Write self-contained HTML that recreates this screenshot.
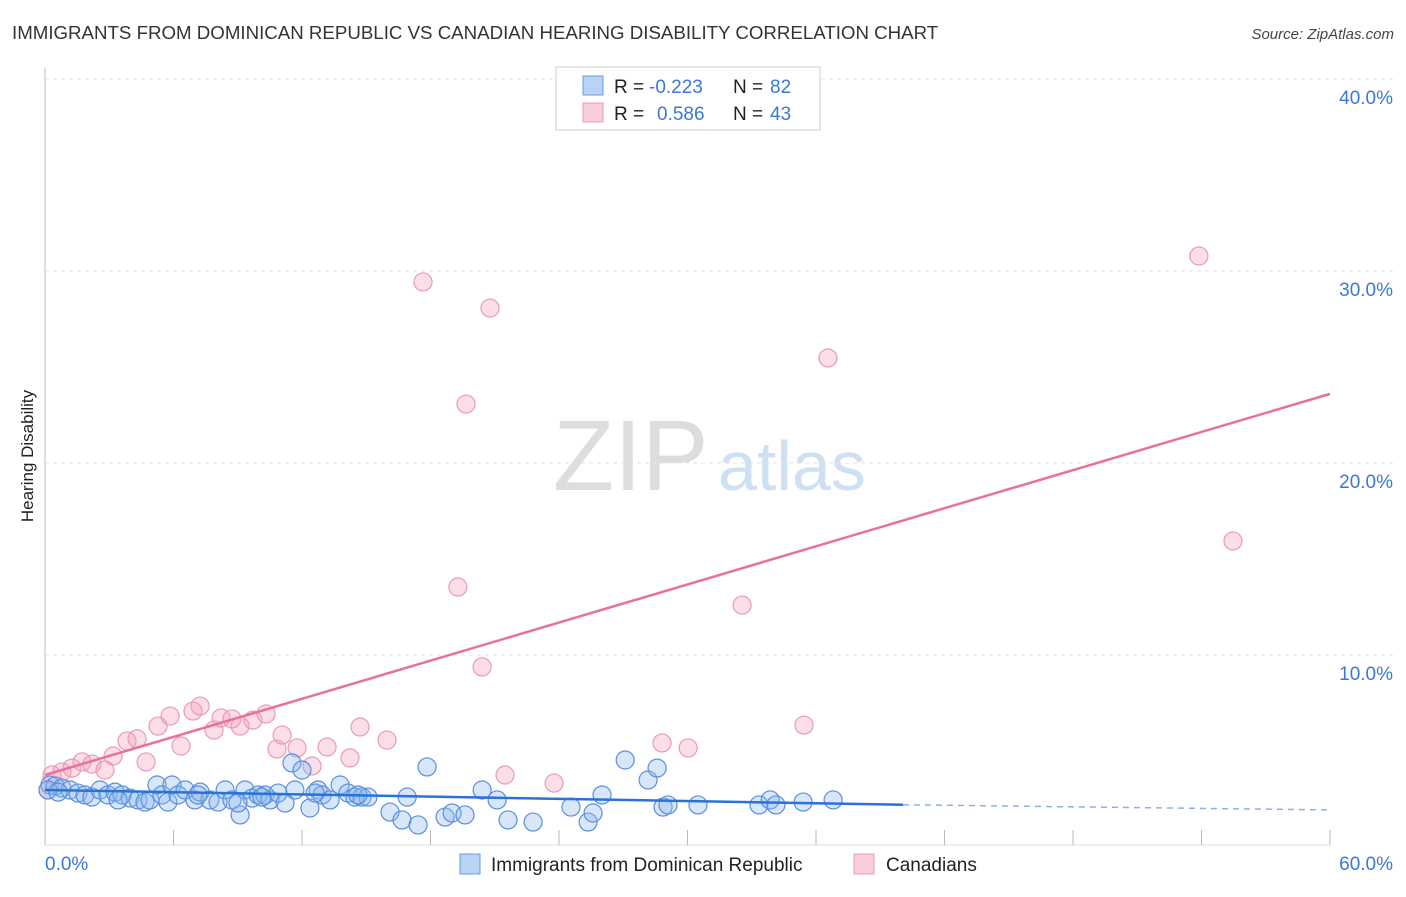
<!DOCTYPE html>
<html><head><meta charset="utf-8"><style>
body{margin:0;background:#fff;font-family:"Liberation Sans",sans-serif}
svg text{font-family:"Liberation Sans",sans-serif}
</style></head><body>
<svg id="chart" width="1406" height="892" xmlns="http://www.w3.org/2000/svg">
<text x="12" y="39" font-size="18.7" fill="#333">IMMIGRANTS FROM DOMINICAN REPUBLIC VS CANADIAN HEARING DISABILITY CORRELATION CHART</text>
<text x="1394" y="39" font-size="15" fill="#444" text-anchor="end" font-style="italic">Source: ZipAtlas.com</text>
<text x="553" y="490" font-size="100" fill="#ddd" font-family="Liberation Serif">ZIP</text>
<text x="718" y="490" font-size="70" fill="#cfe0f3">atlas</text>
<text transform="translate(33,456) rotate(-90)" font-size="17" fill="#222" text-anchor="middle">Hearing Disability</text>
<g id="grid"></g><g id="marks"></g>
<g>
<rect x="556" y="67" width="264" height="63" fill="#fff" stroke="#ccc"/>
<rect x="583" y="76" width="20" height="19" fill="#b9d3f5" stroke="#6b9be0"/>
<rect x="583" y="103" width="20" height="19" fill="#f9ccd9" stroke="#ec9ab5"/>
<text x="614" y="93" font-size="19" fill="#222">R = </text>
<text x="649" y="93" font-size="19" fill="#3b78d8">-0.223</text>
<text x="733" y="93" font-size="19" fill="#222">N = </text>
<text x="770" y="93" font-size="19" fill="#3b78d8">82</text>
<text x="614" y="120" font-size="19" fill="#222">R = </text>
<text x="657" y="120" font-size="19" fill="#3b78d8">0.586</text>
<text x="733" y="120" font-size="19" fill="#222">N = </text>
<text x="770" y="120" font-size="19" fill="#3b78d8">43</text>
</g>
<g>
<rect x="460" y="854" width="20" height="20" fill="#b9d3f5" stroke="#6b9be0"/>
<text x="491" y="871" font-size="19" fill="#222">Immigrants from Dominican Republic</text>
<rect x="854" y="854" width="20" height="20" fill="#f9ccd9" stroke="#ec9ab5"/>
<text x="886" y="871" font-size="19" fill="#222">Canadians</text>
</g>
</svg>
<script>
const yTicks=[10,20,30,40];
const xTickLabels=["0.0%","60.0%"];
const blueX=[0.23,0.47,0.79,1.17,1.54,1.87,2.19,2.57,2.94,3.27,3.60,3.97,4.34,4.67,4.90,5.23,5.46,5.74,5.93,6.21,6.54,7.00,7.24,7.70,8.08,8.41,8.73,9.11,9.34,9.67,9.95,10.27,10.51,10.88,11.21,11.53,11.67,12.00,12.37,12.75,12.94,13.31,13.78,14.15,14.47,14.80,15.08,16.11,16.67,16.91,17.42,17.84,18.68,19.01,19.61,20.41,21.11,21.62,22.79,24.56,25.36,25.59,26.01,27.09,28.16,28.58,28.86,29.09,30.49,33.34,33.86,34.13,35.40,36.80,0.14,0.61,3.41,7.14,9.01,10.13,12.61,14.61];
const blueY=[3.23,3.18,3.07,2.97,2.81,2.71,2.60,2.97,2.71,2.86,2.71,2.55,2.45,2.34,2.45,3.23,2.71,2.34,3.23,2.71,2.97,2.45,2.86,2.45,2.34,2.97,2.45,1.67,2.97,2.55,2.71,2.71,2.45,2.81,2.29,4.38,2.97,4.01,2.03,2.97,2.71,2.45,3.23,2.81,2.60,2.60,2.60,1.82,1.41,2.60,1.15,4.17,1.56,1.77,1.67,2.97,2.45,1.41,1.30,2.08,1.30,1.77,2.71,4.53,3.49,4.11,2.08,2.19,2.19,2.19,2.45,2.19,2.34,2.45,2.97,2.86,2.45,2.71,2.29,2.60,2.81,2.71];
const pinkX=[0.14,0.33,0.79,1.26,1.73,2.19,2.80,3.18,3.83,4.30,4.72,5.28,5.84,6.35,6.91,7.24,7.89,8.22,8.73,9.11,9.71,10.32,10.83,11.07,11.77,12.47,13.17,14.24,14.71,15.97,17.65,19.28,19.66,20.41,20.78,21.48,23.77,28.81,30.03,32.55,35.44,36.56,53.88,55.47];
const pinkY=[2.97,3.75,3.91,4.11,4.43,4.32,4.01,4.74,5.52,5.63,4.43,6.30,6.82,5.26,7.08,7.34,6.09,6.72,6.67,6.30,6.61,6.93,5.10,5.83,5.16,4.22,5.21,4.64,6.25,5.57,29.43,13.54,23.07,9.38,28.07,3.75,3.33,5.42,5.16,12.60,6.35,25.47,30.78,15.94];
const blueTrend=[[0,2.97],[40.06,2.20],[60,1.93]];
const pinkTrend=[[0,3.75],[60,23.6]];
const NS="http://www.w3.org/2000/svg";
const xs=v=>45+v/60*1285, ys=v=>847-v*19.2;
function mk(t,a,p){const e=document.createElementNS(NS,t);for(const k in a)e.setAttribute(k,a[k]);p.appendChild(e);return e;}
const grid=document.getElementById('grid'), marks=document.getElementById('marks');
const ax=mk('line',{x1:45,y1:68,x2:45,y2:845,stroke:'#bbb'},grid);


const xl=mk('line',{x1:45,y1:845,x2:1330,y2:845,stroke:'#ddd'},grid);


yTicks.forEach(t=>{
 const g=mk('line',{x1:45,y1:ys(t),x2:1394,y2:ys(t),stroke:'#e2e2e2','stroke-dasharray':'4,4'},grid);
 
 
 const l=mk('text',{x:1393,y:ys(t)+25,'font-size':19,fill:'#3b78d8','text-anchor':'end'},grid);
 l.textContent=t.toFixed(1)+'%';
 
 
});
for(let i=0;i<=10;i++){
 const tk=mk('line',{x1:xs(i*6),y1:830,x2:xs(i*6),y2:845,stroke:'#bbb'},grid);
 
 
}
[[0,xTickLabels[0],'start',45],[60,xTickLabels[1],'end',1393]].forEach(d=>{
 const l=mk('text',{x:d[3],y:870,'font-size':19,fill:'#3b78d8','text-anchor':d[2]},grid);
 l.textContent=d[1];
 
 
});
pinkX.forEach((x,i)=>{
 const c=mk('circle',{cx:xs(x),cy:ys(pinkY[i]),r:9,fill:'rgba(244,160,188,0.35)',stroke:'#ea9ab4','stroke-width':1.2},marks);
 
 
});
blueX.forEach((x,i)=>{
 const c=mk('circle',{cx:xs(x),cy:ys(blueY[i]),r:9,fill:'rgba(140,182,238,0.35)',stroke:'#5a8fdc','stroke-width':1.2},marks);
 
 
});
const pl=mk('line',{x1:xs(pinkTrend[0][0]),y1:ys(pinkTrend[0][1]),x2:xs(pinkTrend[1][0]),y2:ys(pinkTrend[1][1]),stroke:'#e8719a','stroke-width':2.5},marks);


const bl=mk('line',{x1:xs(blueTrend[0][0]),y1:ys(blueTrend[0][1]),x2:xs(blueTrend[1][0]),y2:ys(blueTrend[1][1]),stroke:'#2a72d8','stroke-width':2.5},marks);


const bd=mk('line',{x1:xs(blueTrend[1][0]),y1:ys(blueTrend[1][1]),x2:xs(blueTrend[2][0]),y2:ys(blueTrend[2][1]),stroke:'#8ab0e6','stroke-width':1.5,'stroke-dasharray':'6,5'},marks);


</script>
</body></html>
